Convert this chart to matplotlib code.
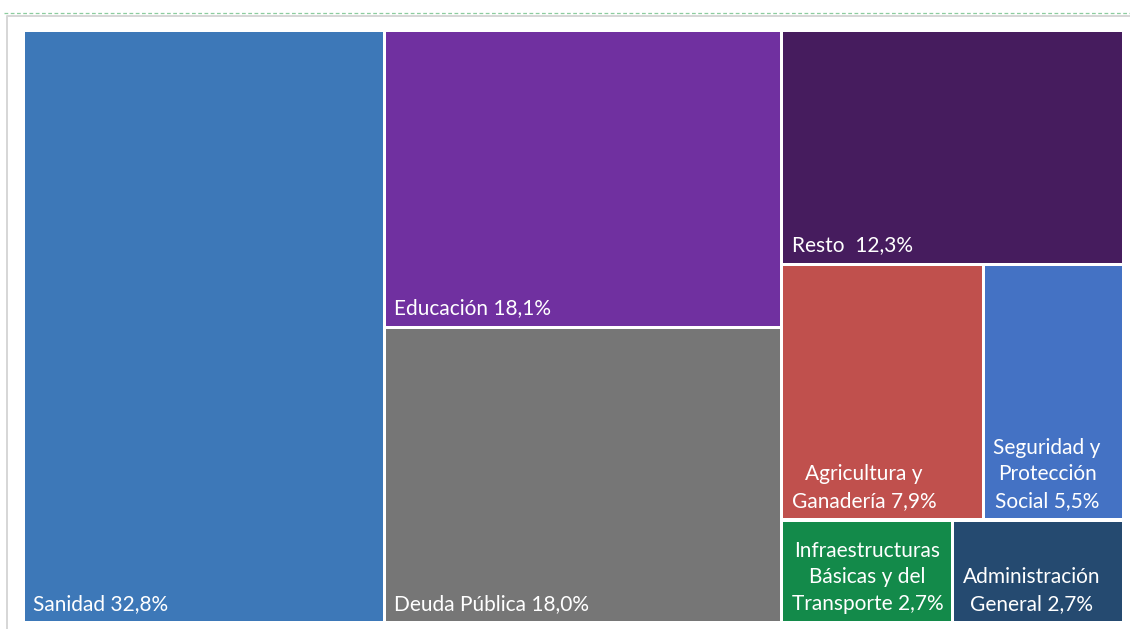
import matplotlib
matplotlib.use("Agg")
import matplotlib.pyplot as plt
from matplotlib.patches import Rectangle

# data
labels = ["Sanidad 32,8%", "Educación 18,1%", "Deuda Pública 18,0%", "Resto  12,3%",
          "Agricultura y\nGanadería 7,9%", "Seguridad y\nProtección\nSocial 5,5%",
          "Infraestructuras\nBásicas y del\nTransporte 2,7%", "Administración\nGeneral 2,7%"]
values = [32.8, 18.1, 18.0, 12.3, 7.9, 5.5, 2.7, 2.7]
colors = ["#3d78b8", "#7030a0", "#767676", "#461c5e",
          "#c0504d", "#4472c4", "#138a4a", "#254a70"]
# tiling: columns -> rows -> tiles (indexes into the lists above)
columns = [[[0]], [[1], [2]], [[3], [4, 5], [6, 7]]]

W, H = 1130, 629
x0, y0, x1, y1 = 23, 30, 1124, 623

fig = plt.figure(figsize=(W / 100, H / 100), dpi=100)
ax = fig.add_axes([0, 0, 1, 1])
ax.set_xlim(0, W)
ax.set_ylim(H, 0)
ax.axis("off")

# frame bits around the chart
ax.plot([4, W], [13, 13], color="#8ccc9f", lw=0.9, ls=(0, (3, 2)))
ax.plot([7, 7, W], [H, 15.5, 15.5], color="#d6d6d6", lw=1.4)

total = sum(values)
gap = 1.6
cx = x0
for col in columns:
    col_sum = sum(values[i] for row in col for i in row)
    cw = (x1 - x0) * col_sum / total
    cy = y0
    for row in col:
        row_sum = sum(values[i] for i in row)
        rh = (y1 - y0) * row_sum / col_sum
        rx = cx
        for i in row:
            tw = cw * values[i] / row_sum
            ax.add_patch(Rectangle((rx + gap, cy + gap), tw - 2 * gap, rh - 2 * gap,
                                   facecolor=colors[i], edgecolor="none"))
            ax.text(rx + 10, cy + rh - 9, labels[i], color="white", fontsize=15,
                    family=["Lato", "DejaVu Sans"], ha="left", va="bottom",
                    multialignment="center", linespacing=1.42)
            rx += tw
        cy += rh
    cx += cw

fig.savefig("out.png", dpi=100)
